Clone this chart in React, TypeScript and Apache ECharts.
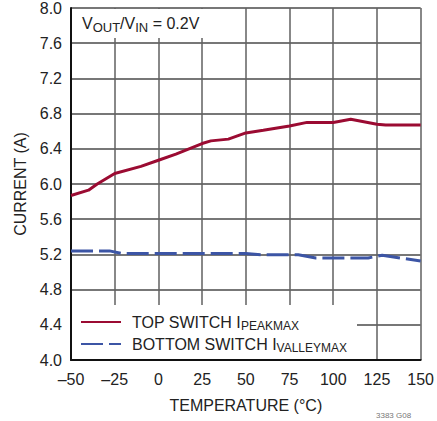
import React, { useEffect, useRef } from "react";
import * as echarts from "echarts";

const peakTemps = [-50, -40, -35, -25, -10, 0, 10, 25, 30, 40, 50, 60, 75, 85, 100, 110, 125, 130, 150];
const peakValues = [5.87, 5.93, 6.0, 6.12, 6.2, 6.27, 6.34, 6.46, 6.49, 6.51, 6.58, 6.61, 6.66, 6.7, 6.7, 6.735, 6.68, 6.67, 6.67];
const valleyTemps = [-50, -28, -21, 50, 60, 80, 90, 120, 128, 150];
const valleyValues = [5.24, 5.24, 5.21, 5.21, 5.195, 5.195, 5.16, 5.16, 5.19, 5.125];
const seriesNames = ["TOP SWITCH IPEAKMAX", "BOTTOM SWITCH IVALLEYMAX"];
const xTicks = { min: -50, max: 150, interval: 25 };
const yTicks = { min: 4, max: 8, interval: 0.4 };

const FONT = "'Liberation Sans', Arial, sans-serif";

export default function App() {
  const ref = useRef<HTMLDivElement>(null);
  useEffect(() => {
    if (!ref.current) return;
    const chart = echarts.init(ref.current, null, { renderer: "svg" });
    chart.setOption({
      animation: false,
      backgroundColor: "#fff",
      grid: { left: 71, right: 14, top: 8, bottom: 61, show: false },
      xAxis: {
        type: "value",
        min: xTicks.min,
        max: xTicks.max,
        interval: xTicks.interval,
        name: "TEMPERATURE (°C)",
        nameLocation: "middle",
        nameGap: 37,
        nameTextStyle: { fontFamily: FONT, fontSize: 16, color: "#222" },
        axisLine: { show: true, onZero: false, lineStyle: { color: "#111", width: 2 } },
        axisTick: { show: false },
        axisLabel: {
          fontFamily: FONT,
          fontSize: 16,
          color: "#222",
          margin: 11,
          formatter: (v: number) => (v < 0 ? "\u2013" + Math.abs(v) : String(v)),
        },
        splitLine: { show: true, lineStyle: { color: "#606060", width: 1.5 } },
      },
      yAxis: {
        type: "value",
        min: yTicks.min,
        max: yTicks.max,
        interval: yTicks.interval,
        name: "CURRENT (A)",
        nameLocation: "middle",
        nameGap: 39,
        nameTextStyle: { fontFamily: FONT, fontSize: 16, color: "#222" },
        axisLine: { show: true, onZero: false, lineStyle: { color: "#111", width: 2 } },
        axisTick: { show: false },
        axisLabel: {
          fontFamily: FONT,
          fontSize: 16,
          color: "#222",
          margin: 9,
          formatter: (v: number) => v.toFixed(1),
        },
        splitLine: { show: true, lineStyle: { color: "#4a4a4a", width: 1.5 } },
      },
      legend: {
        orient: "vertical",
        left: 75,
        top: 309,
        itemWidth: 40,
        itemHeight: 12,
        itemGap: 4,
        z: 10,
        data: seriesNames,
        itemStyle: { opacity: 0 },
        formatter: (name: string) =>
          name === seriesNames[0]
            ? "{t|TOP SWITCH I}{s|PEAKMAX}"
            : "{t|BOTTOM SWITCH I}{s|VALLEYMAX}",
        textStyle: {
          fontFamily: FONT,
          color: "#222",
          rich: {
            t: { fontFamily: FONT, fontSize: 16, color: "#222", padding: [0, 0, 0, 6] },
            s: { fontFamily: FONT, fontSize: 12, color: "#222", padding: [8, 0, 0, 0] },
          },
        },
      },
      graphic: [
        { type: "rect", z: 5, shape: { x: 72, y: 9, width: 168, height: 29 }, style: { fill: "#fff" } },
        { type: "rect", z: 5, shape: { x: 72, y: 305, width: 285, height: 54 }, style: { fill: "#fff" } },
        {
          type: "text",
          z: 6,
          x: 82,
          y: 13,
          style: {
            text: "{v|V}{s|OUT}{v|/V}{s|IN}{v| = 0.2V}",
            fontFamily: FONT,
            rich: {
              v: { fontFamily: FONT, fontSize: 16, fill: "#222" },
              s: { fontFamily: FONT, fontSize: 13, fill: "#222", padding: [8, 0, 0, 0] },
            },
          },
        },
        {
          type: "text",
          z: 6,
          x: 376,
          y: 411,
          style: { text: "3383 G08", fontFamily: FONT, fontSize: 8, fill: "#777" },
        },
      ],
      series: [
        {
          name: seriesNames[0],
          type: "line",
          data: peakTemps.map((t, i) => [t, peakValues[i]]),
          showSymbol: false,
          symbol: "none",
          lineStyle: { color: "#9b0b32", width: 3 },
          itemStyle: { color: "#9b0b32" },
          z: 3,
        },
        {
          name: seriesNames[1],
          type: "line",
          data: valleyTemps.map((t, i) => [t, valleyValues[i]]),
          showSymbol: false,
          symbol: "none",
          lineStyle: { color: "#3c55a5", width: 3, type: [22, 6] },
          itemStyle: { color: "#3c55a5" },
          z: 3,
        },
      ],
    });
    return () => chart.dispose();
  }, []);
  return (
    <div
      ref={ref}
      style={{ position: "fixed", left: 0, top: 0, width: 437, height: 421 }}
    />
  );
}
